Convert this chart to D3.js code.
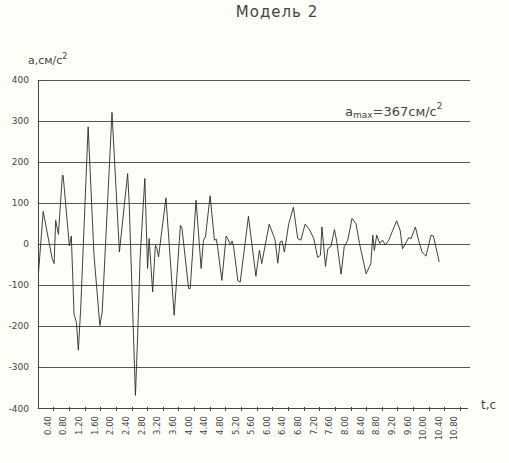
<!DOCTYPE html>
<html>
<head>
<meta charset="utf-8">
<script src="https://cdn.jsdelivr.net/npm/d3@7"></script>
<style>
  html, body { margin: 0; padding: 0; background: #fefef9; }
  svg { display: block; }
  text { font-family: "DejaVu Sans", sans-serif; fill: #444; }
</style>
</head>
<body>
<svg id="chart" width="509" height="463"></svg>
<script>
// ---- data ----
const title = "Модель 2";
const yLabel = "а,см/с";
const xLabel = "t,c";
const yTicks = [400, 300, 200, 100, 0, -100, -200, -300, -400];
const xTicks = [0.4, 0.8, 1.2, 1.6, 2.0, 2.4, 2.8, 3.2, 3.6, 4.0, 4.4, 4.8, 5.2, 5.6,
                6.0, 6.4, 6.8, 7.2, 7.6, 8.0, 8.4, 8.8, 9.2, 9.6, 10.0, 10.4, 10.8];
const times = [0.02, 0.14, 0.37, 0.42, 0.46, 0.53, 0.63, 0.65, 0.81, 0.86, 0.93, 0.99, 1.04, 1.10,
  1.29, 1.44, 1.59, 1.65, 1.90, 2.09, 2.30, 2.34, 2.50, 2.56, 2.62, 2.74, 2.81, 2.85, 2.94, 3.01,
  3.05, 3.09, 3.28, 3.49, 3.65, 3.69, 3.86, 3.90, 4.05, 4.18, 4.24, 4.29, 4.41, 4.52, 4.57, 4.60,
  4.71, 4.82, 4.87, 4.93, 4.97, 5.01, 5.12, 5.18, 5.39, 5.58, 5.67, 5.73, 5.92, 6.07, 6.14, 6.20,
  6.25, 6.31, 6.42, 6.54, 6.65, 6.73, 6.84, 6.95, 7.06, 7.16, 7.23, 7.27, 7.36, 7.42, 7.50, 7.59,
  7.65, 7.76, 7.84, 7.93, 8.04, 8.14, 8.23, 8.40, 8.52, 8.57, 8.61, 8.67, 8.75, 8.82, 8.89, 8.98,
  9.08, 9.18, 9.27, 9.33, 9.49, 9.55, 9.66, 9.74, 9.83, 9.93, 10.06, 10.12, 10.27];
const accel = [-70, 80, -35, -47, 58, 24, 168, 168, -4, 20, -171, -190, -258, -156,
  286, -27, -198, -165, 321, -19, 172, 99, -368, -214, -31, 160, -59, 14, -116, -2,
  -11, -31, 113, -173, 46, 39, -108, -108, 107, -59, 10, 18, 118, 10, 12, -6,
  -88, 20, 12, -2, 8, -6, -89, -92, 68, -78, -15, -47, 49, 11, -46, 6,
  8, -19, 50, 90, 14, 10, 49, 36, 14, -32, -27, 42, -54, -11, -5, 36,
  6, -73, -6, 10, 63, 50, 2, -72, -47, 22, -15, 22, 2, 10, -2, 10,
  34, 57, 34, -11, 16, 14, 42, 10, -19, -29, 22, 20, -43];
const amaxValue = 367;

// ---- drawing ----
const svg = d3.select("#chart");
const x = d3.scaleLinear().domain([0, 11.0]).range([37.7, 467.8]);
const y = d3.scaleLinear().domain([-400, 400]).range([408.5, 80]);

// title
svg.append("text").attr("x", 277).attr("y", 17).attr("text-anchor", "middle")
  .attr("font-size", 15).attr("letter-spacing", 1).text(title);

// y axis label with superscript
const yl = svg.append("text").attr("x", 28).attr("y", 64).attr("font-size", 11);
yl.append("tspan").text(yLabel);
yl.append("tspan").attr("font-size", 8).attr("dy", -5).text("2");

// gridlines
svg.append("g").selectAll("line").data(yTicks).join("line")
  .attr("x1", x(0)).attr("x2", 470)
  .attr("y1", d => Math.round(y(d)) + 0.5).attr("y2", d => Math.round(y(d)) + 0.5)
  .attr("stroke", d => d === -400 ? "none" : "#555").attr("stroke-width", 1);

// y tick labels
svg.append("g").selectAll("text").data(yTicks).join("text")
  .attr("x", 29).attr("y", d => y(d) + 3).attr("text-anchor", "end")
  .attr("font-size", 9).text(d => d);

// y axis line
svg.append("line").attr("x1", Math.round(x(0)) + 0.5).attr("x2", Math.round(x(0)) + 0.5)
  .attr("y1", y(400)).attr("y2", 409).attr("stroke", "#444");

// x axis line
svg.append("line").attr("x1", x(0)).attr("x2", x(11.0))
  .attr("y1", 408.5).attr("y2", 408.5).attr("stroke", "#444");

// x ticks
svg.append("g").selectAll("line").data(xTicks).join("line")
  .attr("x1", d => Math.round(x(d)) + 0.5).attr("x2", d => Math.round(x(d)) + 0.5)
  .attr("y1", 407).attr("y2", 411).attr("stroke", "#444");

// x tick labels (rotated)
svg.append("g").selectAll("text").data(xTicks).join("text")
  .attr("transform", d => `translate(${x(d) - 2.5},416) rotate(-90)`)
  .attr("text-anchor", "end").attr("font-size", 8.5)
  .text(d => d.toFixed(2));

// x axis label
svg.append("text").attr("x", 481).attr("y", 409).attr("font-size", 12).text(xLabel);

// annotation
const an = svg.append("text").attr("x", 345).attr("y", 116).attr("font-size", 13);
an.append("tspan").text("a");
an.append("tspan").attr("font-size", 9).attr("dy", 2).text("max");
an.append("tspan").attr("dy", -2).text("=" + amaxValue + "см/с");
an.append("tspan").attr("font-size", 9).attr("dy", -7).text("2");

// data line
const pts = times.map((t, i) => [t, accel[i]]);
svg.append("path").datum(pts)
  .attr("fill", "none").attr("stroke", "#2a2a2a").attr("stroke-width", 0.9)
  .attr("stroke-linejoin", "round")
  .attr("d", d3.line().x(d => x(d[0])).y(d => y(d[1])));
</script>
</body>
</html>
